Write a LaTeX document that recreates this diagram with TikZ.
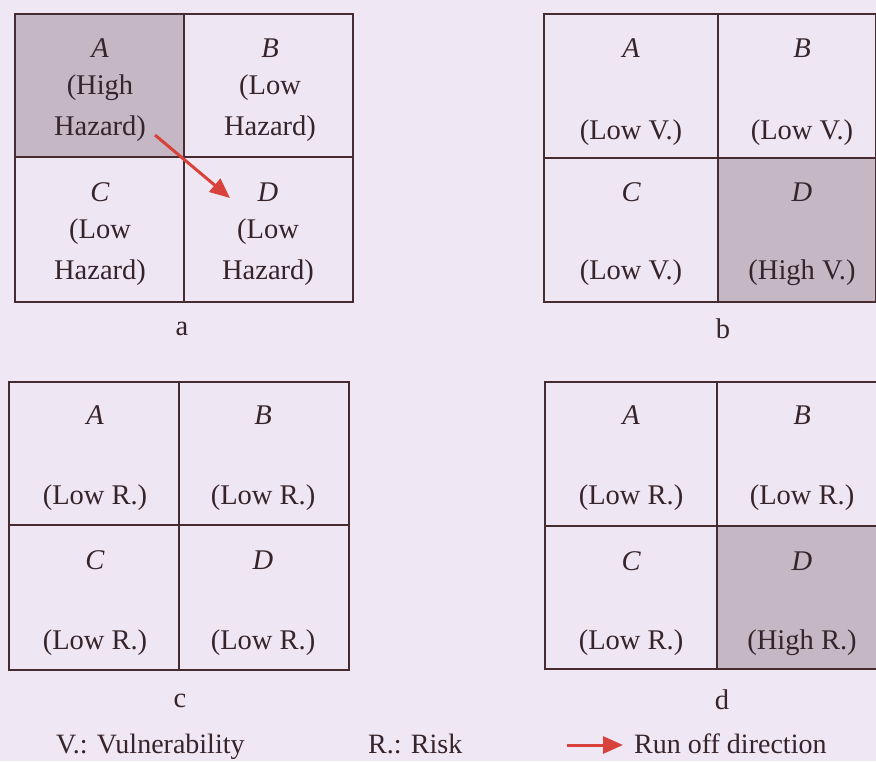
\documentclass[tikz,border=0pt]{standalone}
\usepackage{fontspec}
\setmainfont{Liberation Serif}
\usetikzlibrary{arrows.meta}
\definecolor{bg}{HTML}{EFE7F3}
\definecolor{cellbg}{HTML}{EEE6F2}
\definecolor{shade}{HTML}{C5B8C4}
\definecolor{gridline}{HTML}{462C30}
\definecolor{txt}{HTML}{36242A}
\definecolor{runoff}{HTML}{D9413B}
\begin{document}
\begin{tikzpicture}[x=1pt,y=-1pt,
  cell/.style={draw=gridline,line width=2.4pt,inner sep=0pt,outer sep=0pt,minimum width=#1},
  cell/.default=170pt,
  lbl/.style={text=txt,font=\fontsize{28.5}{34}\selectfont,inner sep=0pt},
  captxt/.style={text=txt,font=\fontsize{28.5}{34}\selectfont,inner sep=0pt},
  legtxt/.style={text=txt,font=\fontsize{28}{34}\selectfont,inner sep=0pt,anchor=base west},
  runarrow/.style={draw=runoff,line width=3pt,-{Triangle[length=20pt,width=17pt]}}]
\fill[bg] (0,0) rectangle (876,761);
\useasboundingbox (0,0) rectangle (876,761);

% ---------- grid a ----------
\node[cell=169pt,minimum height=143pt,fill=shade] (aA) at (99.5,85.5) {};
\node[cell=169pt,minimum height=143pt,fill=cellbg] (aB) at (268.5,85.5) {};
\node[cell=169pt,minimum height=145pt,fill=cellbg] (aC) at (99.5,229.5) {};
\node[cell=169pt,minimum height=145pt,fill=cellbg] (aD) at (268.5,229.5) {};
\node[lbl] (aAt1) at (100,48) {\itshape A};
\node[lbl] (aAt2) at (100,88) {(High};
\node[lbl] (aAt3) at (100,129) {Hazard)};
\node[lbl] (aBt1) at (270,48) {\itshape B};
\node[lbl] (aBt2) at (270,88) {(Low};
\node[lbl] (aBt3) at (270,129) {Hazard)};
\node[lbl] (aCt1) at (100,192) {\itshape C};
\node[lbl] (aCt2) at (100,232) {(Low};
\node[lbl] (aCt3) at (100,273) {Hazard)};
\node[lbl] (aDt1) at (268,192) {\itshape D};
\node[lbl] (aDt2) at (268,232) {(Low};
\node[lbl] (aDt3) at (268,273) {Hazard)};
\coordinate (runstart) at (155,135);
\coordinate (runend) at (230,198);
\draw[runarrow] (runstart) -- (runend);
\node[captxt] (capa) at (182,329) {a};

% ---------- grid b ----------
\node[cell=174pt,minimum height=144pt,fill=cellbg] (bA) at (631,86) {};
\node[cell=158pt,minimum height=144pt,fill=cellbg] (bB) at (797,86) {};
\node[cell=174pt,minimum height=144pt,fill=cellbg] (bC) at (631,230) {};
\node[cell=158pt,minimum height=144pt,fill=shade] (bD) at (797,230) {};
\node[lbl] (bAt1) at (631,48) {\itshape A};
\node[lbl] (bAt2) at (631,133) {(Low V.)};
\node[lbl] (bBt1) at (802,48) {\itshape B};
\node[lbl] (bBt2) at (802,133) {(Low V.)};
\node[lbl] (bCt1) at (631,192) {\itshape C};
\node[lbl] (bCt2) at (631,273) {(Low V.)};
\node[lbl] (bDt1) at (802,192) {\itshape D};
\node[lbl] (bDt2) at (802,273) {(High V.)};
\node[captxt] (capb) at (723,329) {b};

% ---------- grid c ----------
\node[cell=170pt,minimum height=143pt,fill=cellbg] (cA) at (94,453.5) {};
\node[cell=170pt,minimum height=143pt,fill=cellbg] (cB) at (264,453.5) {};
\node[cell=170pt,minimum height=145pt,fill=cellbg] (cC) at (94,597.5) {};
\node[cell=170pt,minimum height=145pt,fill=cellbg] (cD) at (264,597.5) {};
\node[lbl] (cAt1) at (95,415) {\itshape A};
\node[lbl] (cAt2) at (95,498) {(Low R.)};
\node[lbl] (cBt1) at (263,415) {\itshape B};
\node[lbl] (cBt2) at (263,498) {(Low R.)};
\node[lbl] (cCt1) at (95,560) {\itshape C};
\node[lbl] (cCt2) at (95,643) {(Low R.)};
\node[lbl] (cDt1) at (263,560) {\itshape D};
\node[lbl] (cDt2) at (263,643) {(Low R.)};
\node[captxt] (capc) at (180,701) {c};

% ---------- grid d ----------
\node[cell=172pt,minimum height=144pt,fill=cellbg] (dA) at (631,454) {};
\node[cell=161pt,minimum height=144pt,fill=cellbg] (dB) at (797.5,454) {};
\node[cell=172pt,minimum height=143pt,fill=cellbg] (dC) at (631,597.5) {};
\node[cell=161pt,minimum height=143pt,fill=shade] (dD) at (797.5,597.5) {};
\node[lbl] (dAt1) at (631,415) {\itshape A};
\node[lbl] (dAt2) at (631,498) {(Low R.)};
\node[lbl] (dBt1) at (802,415) {\itshape B};
\node[lbl] (dBt2) at (802,498) {(Low R.)};
\node[lbl] (dCt1) at (631,561) {\itshape C};
\node[lbl] (dCt2) at (631,643) {(Low R.)};
\node[lbl] (dDt1) at (802,561) {\itshape D};
\node[lbl] (dDt2) at (802,643) {(High R.)};
\node[captxt] (capd) at (722,700) {d};

% ---------- legend ----------
\node[legtxt] (legV) at (56,753) {V.: Vulnerability};
\node[legtxt] (legR) at (368,753) {R.: Risk};
\node[legtxt] (legRun) at (634,753) {Run off direction};
\coordinate (legstart) at (567,745);
\coordinate (legend) at (623,745);
\draw[runarrow] (legstart) -- (legend);
\end{tikzpicture}
\end{document}
